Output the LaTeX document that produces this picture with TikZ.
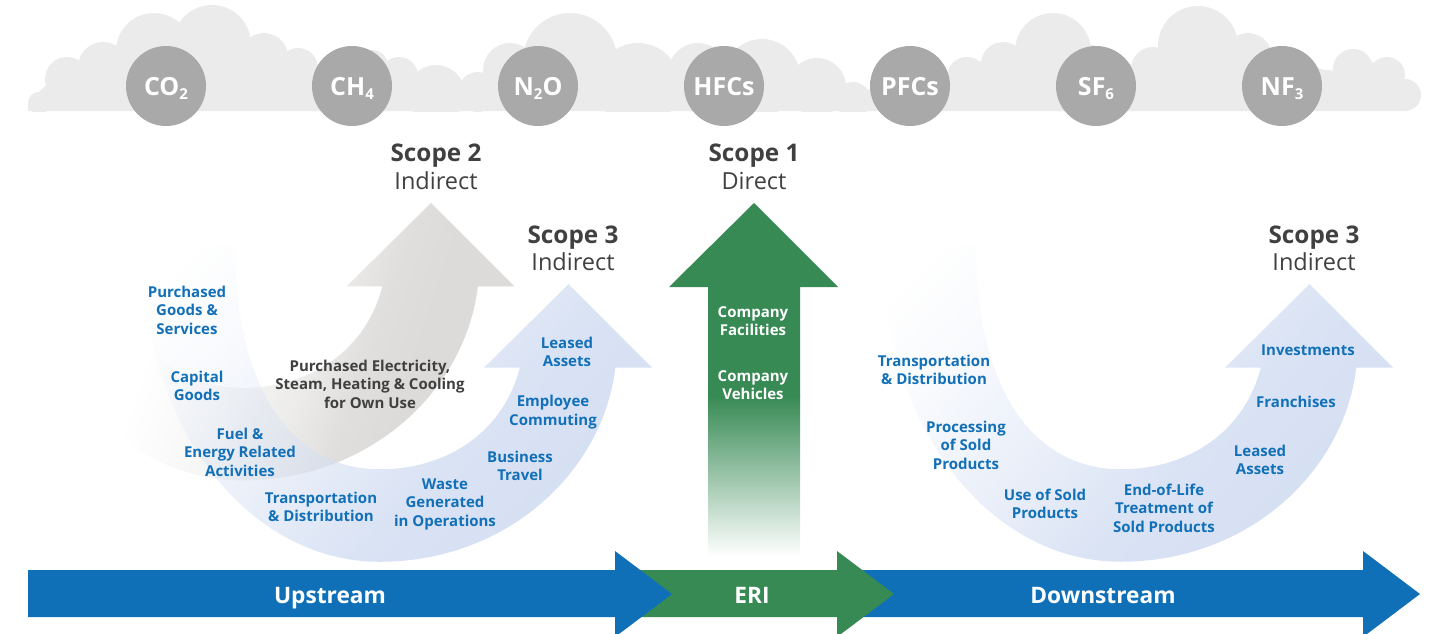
\documentclass[tikz,border=0pt]{standalone}
\usepackage{fontspec}
\setmainfont{Open Sans}
\usetikzlibrary{fadings}
\definecolor{cloudc}{HTML}{EBEBEB}
\definecolor{gasc}{HTML}{A9A9AA}
\definecolor{greenc}{HTML}{378A54}
\definecolor{bluec}{HTML}{0F70B7}
\definecolor{labelc}{HTML}{1270B8}
\definecolor{darkc}{HTML}{404040}
\definecolor{paleblue}{HTML}{D6E0F3}
\definecolor{palegrey}{HTML}{DCDBD9}
\pgfdeclarehorizontalshading{sweepbluesh}{100bp}{color(0bp)=(transparent!100); color(20bp)=(transparent!100); color(30bp)=(transparent!85); color(48bp)=(transparent!40); color(58bp)=(transparent!10); color(70bp)=(transparent!0); color(100bp)=(transparent!0)}
\pgfdeclarehorizontalshading{sweepgreysh}{100bp}{color(0bp)=(transparent!100); color(40bp)=(transparent!100); color(49bp)=(transparent!75); color(56bp)=(transparent!45); color(61bp)=(transparent!10); color(66bp)=(transparent!0); color(100bp)=(transparent!0)}
\tikzfading[name=sweepblue, shading=sweepbluesh]
\tikzfading[name=sweepgrey, shading=sweepgreysh]
\newcommand{\crescent}{(141,245) .. controls (141,430) and (250,562) .. (380,562)
  .. controls (510,562) and (605,470) .. (617,367) -- (654,367) -- (570,283) -- (485,367) -- (521,367)
  .. controls (505,430) and (450,469) .. (380,469)
  .. controls (300,469) and (235,400) .. (235,245) -- cycle}
\newcommand{\sub}[1]{\raisebox{-.3ex}[0pt][0pt]{\fontsize{15}{15}\selectfont #1}}
\tikzset{
  x=1pt,y=-1pt,
  gas/.style={circle,fill=gasc,minimum size=80pt,inner sep=0pt,text=white,text height=18pt,text depth=0pt,font=\fontsize{25}{27}\selectfont\bfseries},
  head/.style={text=darkc,font=\fontsize{24.3}{26}\selectfont\bfseries,inner sep=0pt},
  sublabel/.style={text=darkc,font=\fontsize{23.5}{26}\selectfont,inner sep=0pt},
  item/.style={text=labelc,align=center,inner sep=0pt,font=\fontsize{15}{18.5}\selectfont\bfseries},
  darkitem/.style={item,text=darkc},
  whiteitem/.style={item,text=white},
  band/.style={text=white,inner sep=0pt,font=\fontsize{22.7}{26}\selectfont\bfseries},
  puff/.style={fill=cloudc,draw=none},
  crescentblue/.style={fill=paleblue,path fading=sweepblue,fading angle=-30},
  crescentgrey/.style={fill=palegrey,path fading=sweepgrey,fading angle=-12}
}
\begin{document}
\begin{tikzpicture}
\useasboundingbox (0,0) rectangle (1435,633);
% cloud
\begin{scope}
\clip (0,0) rectangle (1435,111);
\fill[puff] (28,111) -- (28,103) -- (39,92) -- (46,85) -- (80,62) -- (116,45) -- (179,25) -- (250,37) -- (286,54) -- (317,65) -- (386,65) -- (418,74) -- (463,81) -- (484,75) -- (526,49) -- (617,52) -- (673,60) -- (798,67) -- (846,84) -- (870,90) -- (948,72) -- (982,61) -- (1017,45) -- (1093,45) -- (1132,65) -- (1159,49) -- (1237,37) -- (1270,49) -- (1337,75) -- (1372,62) -- (1404,80) -- (1405,111) -- cycle;
\foreach \cx/\cy/\r in {
 39/103/11, 67/79/22, 103/67/25, 154/51/38, 212/44/39, 264/57/24, 298/68/20, 372/66/16,
 399/76/19, 436/94/29, 478/92/20, 510/70/27, 570/60/47, 638/85/42, 698/73/30, 762/77/38,
 817/87/29, 853/100/18, 967/77/20, 1003/64/22, 1053/51/38, 1153/69/22, 1198/46/40,
 1248/57/24, 1328/90/20, 1353/69/20, 1387/75/18, 1405/95/16}
  \fill[puff] (\cx,\cy) circle[radius=\r];
\end{scope}
% gases
\node[gas] (co2) at (166,86) {CO\sub{2}};
\node[gas] (ch4) at (352,86) {CH\sub{4}};
\node[gas] (n2o) at (538,86) {N\sub{2}O};
\node[gas] (hfc) at (724,86) {HFCs};
\node[gas] (pfc) at (910,86) {PFCs};
\node[gas] (sf6) at (1096,86) {SF\sub{6}};
\node[gas] (nf3) at (1282,86) {NF\sub{3}};
% scope headings
\node[head] (s2) at (436,156) {Scope 2};
\node[sublabel] (s2b) at (436,181) {Indirect};
\node[head] (s1) at (754,156) {Scope 1};
\node[sublabel] (s1b) at (754,181) {Direct};
\node[head] (s3a) at (573,238) {Scope 3};
\node[sublabel] (s3ab) at (573,262) {Indirect};
\node[head] (s3c) at (1314,238) {Scope 3};
\node[sublabel] (s3cb) at (1314,262) {Indirect};
% curved arrows
\begin{scope}[shift={(-135,-82)}]
\fill[crescentgrey] \crescent;
\end{scope}
\begin{scope}[shift={(3,0)}]
\fill[crescentblue] \crescent;
\end{scope}
\begin{scope}[shift={(744,0)}]
\fill[crescentblue] \crescent;
\end{scope}
% scope 1 arrow
\fill[greenc] (754,203) -- (838,287) -- (800,287) -- (800,397) -- (708,397) -- (708,287) -- (669,287) -- cycle;
\fill[top color=greenc,bottom color=white,draw=none] (708,396) rectangle (800,556);
% bottom bands
\fill[bluec] (860,570) -- (1363,570) -- (1363,551) -- (1420,594) -- (1363,637) -- (1363,617) -- (860,617) -- cycle;
\fill[greenc] (640,570) -- (837,570) -- (837,551) -- (894,594) -- (837,637) -- (837,617) -- (640,617) -- cycle;
\fill[bluec] (28,570) -- (615,570) -- (615,551) -- (672,594) -- (615,637) -- (615,617) -- (28,617) -- cycle;
\node[band] (up) at (330,598) {Upstream};
\node[band] (eri) at (752,595) {ERI};
\node[band] (down) at (1103,595) {Downstream};
% labels left
\node[item] (a1) at (187,310) {Purchased\\Goods \&\\Services};
\node[item] (a2) at (197,386) {Capital\\Goods};
\node[item] (a3) at (240,452) {Fuel \&\\Energy Related\\Activities};
\node[item] (a4) at (321,507) {Transportation\\\& Distribution};
\node[item] (a5) at (445,504) {Waste\\Generated\\in Operations};
\node[item] (a6) at (520,466) {Business\\Travel};
\node[item] (a7) at (553,412) {Employee\\Commuting};
\node[item] (a8) at (567,352) {Leased\\Assets};
\node[darkitem] (b1) at (370,384) {Purchased Electricity,\\Steam, Heating \& Cooling\\for Own Use};
\node[whiteitem] (c1) at (753,321) {Company\\Facilities};
\node[whiteitem] (c2) at (753,385) {Company\\Vehicles};
% labels right
\node[item] (d1) at (934,370) {Transportation\\\& Distribution};
\node[item] (d2) at (966,445) {Processing\\of Sold\\Products};
\node[item] (d3) at (1045,504) {Use of Sold\\Products};
\node[item] (d4) at (1164,508) {End-of-Life\\Treatment of\\Sold Products};
\node[item] (d5) at (1260,460) {Leased\\Assets};
\node[item] (d6) at (1296,402) {Franchises};
\node[item] (d7) at (1308,350) {Investments};
\end{tikzpicture}
\end{document}
